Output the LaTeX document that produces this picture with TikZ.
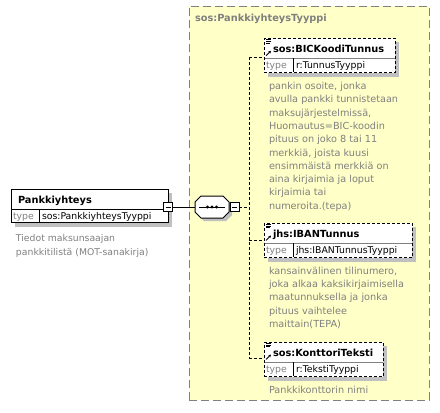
\documentclass[tikz,border=0pt]{standalone}
\usepackage{fontspec}
\setmainfont{DejaVu Sans}
\usetikzlibrary{arrows.meta}
\definecolor{ylw}{RGB}{255,255,200}
\definecolor{grp}{RGB}{128,128,128}
\definecolor{shd}{RGB}{192,192,192}
\newcommand\desclines[1]{\begin{tabular}[t]{@{}l@{}}#1\end{tabular}}
\newcommand\xsdchild[5]{%
  \fill[shd] (268,#2+4) rectangle (264+#3+4,#2+34.5+4);
  \node[draw, childdash, fill=white, anchor=north west, minimum width=#3, minimum height=34.5] (#1) at (264,#2) {};
  \draw[grp] (264.5,#2+20) -- (263.5+#3,#2+20);
  \draw (293,#2+20) -- (293,#2+34);
  \draw[line width=0.7pt] (266,#2+1.2) -- (271,#2+1.2) (266,#2+2.9) -- (271,#2+2.9) (266,#2+4.6) -- (270,#2+4.6);
  \draw[line width=0.9pt,-{Stealth[length=2.6pt,width=2.8pt]}] (266,#2+17.4) -- (271,#2+12.6);
  \node[btxt] (#1-t) at (273,#2+14.3) {#4};
  \node[desc] (#1-k) at (266,#2+30.5) {type};
  \node[txt] (#1-v) at (296,#2+30.5) {#5};
}
\begin{document}
\begin{tikzpicture}[x=1pt,y=-1pt,line width=1pt,
  every node/.style={inner sep=0pt,outer sep=0pt},
  txt/.style={font=\fontsize{9.3}{13.3}\selectfont,anchor=base west},
  btxt/.style={txt,font=\fontsize{9.8}{13.3}\selectfont\bfseries},
  desc/.style={txt,text=grp},
  longdesc/.style={txt,text=grp,font=\fontsize{9.7}{13.3}\selectfont},
  childdash/.style={dash pattern=on 3pt off 2pt},
  conn/.style={draw=black,dash pattern=on 3pt off 2pt},
  minusbox/.style={draw,fill=white,minimum size=9pt}]
\useasboundingbox (0,0) rectangle (440,413);
\fill[white] (0,0) rectangle (440,413);
% group box
\node[draw=grp, fill=ylw, dash pattern=on 8pt off 4pt, anchor=north west, minimum width=240, minimum height=394] (grpbox) at (189,6) {};
\node[btxt,text=grp] (grptitle) at (195,21) {sos:PankkiyhteysTyyppi};
% left element
\fill[shd] (15,193) rectangle (172,226.5);
\node[draw, fill=white, anchor=north west, minimum width=157, minimum height=33.5] (pk) at (11,189) {};
\draw (11,209) -- (168,209);
\draw (39,209) -- (39,222.5);
\node[btxt] (pk-t) at (18,203.3) {Pankkiyhteys};
\node[desc] (pk-k) at (13,219.5) {type};
\node[txt] (pk-v) at (42,219.5) {sos:PankkiyhteysTyyppi};
\node[desc] (pk-d) at (16,241.7) {\desclines{Tiedot maksunsaajan\\pankkitilistä (MOT-sanakirja)}};
\node[minusbox] (pkm) at (168,207) {};
\draw ([xshift=2pt]pkm.west) -- ([xshift=-2pt]pkm.east);
% sequence compositor
\node[minimum width=34, minimum height=22] (seq) at (212,207) {};
\draw (pkm.east) -- (seq.west);
\fill[shd] (204,199) -- (226,199) -- (232,205) -- (232,215) -- (226,221) -- (204,221) -- (198,215) -- (198,205) -- cycle;
\filldraw[fill=white] (201,196) -- (223,196) -- (229,202) -- (229,212) -- (223,218) -- (201,218) -- (195,212) -- (195,202) -- cycle;
\draw (199,207) -- (225,207);
\fill (207.5,207) circle (1.6) (212,207) circle (1.6) (216.5,207) circle (1.6);
\node[minusbox] (seqm) at (234.5,207) {};
\draw ([xshift=2pt]seqm.west) -- ([xshift=-2pt]seqm.east);
% children
\xsdchild{bic}{38.3}{131}{sos:BICKoodiTunnus}{r:TunnusTyyppi}
\xsdchild{iban}{223}{148}{jhs:IBANTunnus}{jhs:IBANTunnusTyyppi}
\xsdchild{kon}{342}{119}{sos:KonttoriTeksti}{r:TekstiTyyppi}
\node[longdesc] (bic-d) at (269,89.5) {\desclines{pankin osoite, jonka\\avulla pankki tunnistetaan\\maksujärjestelmissä,\\Huomautus=BIC-koodin\\pituus on joko 8 tai 11\\merkkiä, joista kuusi\\ensimmäistä merkkiä on\\aina kirjaimia ja loput\\kirjaimia tai\\numeroita.(tepa)}};
\node[longdesc] (iban-d) at (269,274.2) {\desclines{kansainvälinen tilinumero,\\joka alkaa kaksikirjaimisella\\maatunnuksella ja jonka\\pituus vaihtelee\\maittain(TEPA)}};
\node[longdesc] (kon-d) at (269,393) {Pankkikonttorin nimi};
% connectors
\coordinate (ja) at (249,207);
\coordinate (jt) at (249,57);
\coordinate (jm) at (249,240);
\coordinate (jb) at (249,358);
\draw[conn] (seqm.east) -- (ja);
\draw[conn] (jt) -- (jb);
\draw[conn] (jt) -- (jt -| bic.west);
\draw[conn] (jm) -- (jm -| iban.west);
\draw[conn] (jb) -- (jb -| kon.west);
\end{tikzpicture}
\end{document}
